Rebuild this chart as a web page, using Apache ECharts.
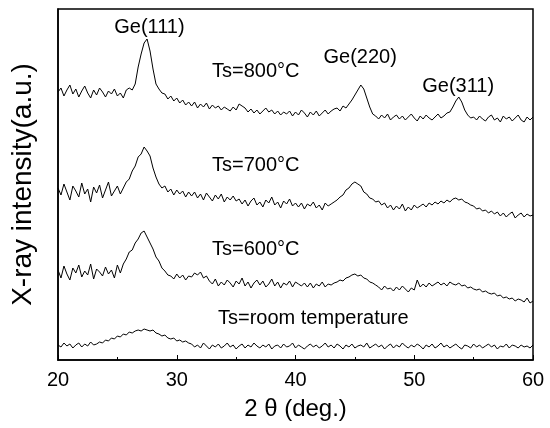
<!DOCTYPE html>
<html>
<head>
<meta charset="utf-8">
<script src="https://cdn.jsdelivr.net/npm/echarts@6/dist/echarts.min.js"></script>
<style>
html,body{margin:0;padding:0;background:#fff;}
#chart{width:550px;height:428px;}
</style>
</head>
<body>
<div id="chart"></div>
<script>
// 2θ sampling: 20.00 .. 60.00 deg, step 0.25 deg
const thetaStart = 20;
const thetaStep = 0.25;

// Intensities (a.u., curves stacked with offsets as in the figure)
const ts800 = [
268,272,264,270,275,266,271,263,269,274,267,262,270,265,272,268,263,269,266,271,264,267,262,270,272,
270,276,293,306,317,321,309,291,276,271,267,
266,261,264,259,262,257,260,255,258,
254,258,252,256,253,257,251,255,252,254,250,253,
251,249,253,250,256,254,252,248,251,247,250,246,249,252,248,250,246,249,245,248,
246,249,244,248,245,250,247,243,248,245,249,244,247,250,246,249,251,
252,249,254,252,256,260,265,270,275,271,262,253,246,
244,241,245,242,246,240,243,245,241,244,240,243,246,242,239,244,241,245,242,240,243,246,242,244,247,
248,253,259,263,258,250,245,242,
243,240,244,241,239,243,245,240,242,238,244,241,243,239,242,245,240,238,243,240,243
];
const ts700 = [
172,165,176,168,160,174,169,163,177,166,171,158,173,167,175,162,170,178,164,169,174,166,172,
178,181,189,194,203,206,213,209,204,192,183,176,172,
174,168,171,165,170,166,169,163,168,
164,168,162,166,160,167,163,159,165,161,166,158,163,160,164,159,
161,156,160,154,159,162,155,158,153,160,157,163,155,158,152,159,156,161,154,157,
153,157,151,156,154,158,152,155,150,157,154,156,
158,160,163,165,170,172,176,178,176,174,168,166,162,161,158,159,155,157,
152,155,150,154,151,156,149,153,150,155,152,154,
156,153,157,155,158,156,159,157,160,158,161,162,160,161,158,157,155,154,151,152,149,150,147,149,
146,148,144,147,143,146,148,142,145,147,143,146,144,145
];
const ts600 = [
90,82,94,86,80,92,87,95,83,89,85,96,81,91,88,84,93,86,90,82,95,87,
96,101,108,110,117,121,127,129,123,117,111,103,99,92,89,85,
84,81,86,82,85,80,84,83,87,85,88,82,84,
79,76,81,74,78,75,80,77,73,79,76,82,74,78,72,77,80,75,79,73,76,81,74,78,72,77,75,79,73,78,76,74,77,
73,77,72,76,74,78,73,76,75,77,
78,80,79,82,83,85,86,84,85,82,81,78,77,75,
73,70,74,71,72,69,73,70,74,71,68,72,70,
80,73,
76,73,77,74,76,78,75,77,74,78,76,75,77,74,
75,72,73,71,70,71,68,69,67,66,67,64,65,62,63,61,62,59,61,60,58,62,57,59
];
const tsRoom = [
15,13,17,14,16,12,15,17,13,16,14,18,15,
16,18,17,20,19,22,21,24,23,26,25,28,27,29,30,29,31,30,29,30,27,26,24,25,22,21,22,19,20,18,19,17,
16,13,15,12,17,14,11,15,13,16,12,14,17,13,15,11,14,16,12,15,
13,17,14,12,15,13,16,11,14,15,12,16,13,14,17,12,15,13,11,14,
16,13,15,12,14,17,13,15,12,16,14,11,15,13,16,12,14,15,13,17,
12,14,16,13,15,11,14,16,12,15,13,17,14,12,15,13,16,14,11,15,
13,16,12,14,17,13,15,12,14,16,13,11,15,14,12,16,13,15,12,14,
16,13,15,11,14,13,16,12,15,14,12,15,13,14,12,15
];

// Annotation texts and their positions in data units [2θ, intensity]
const annoText = ["Ge(111)", "Ts=800°C", "Ge(220)", "Ge(311)", "Ts=700°C", "Ts=600°C", "Ts=room temperature"];
const annoX = [27.7, 36.65, 45.45, 53.7, 36.65, 36.65, 41.5];
const annoY = [333, 289, 303, 274, 195, 111, 42];

const xTicks = [20, 30, 40, 50, 60];
const xName = "2 θ (deg.)";
const yName = "X-ray intensity(a.u.)";

function toPairs(arr) {
  return arr.map((v, i) => [thetaStart + i * thetaStep, v]);
}

const FONT = "'Liberation Sans', Arial, Helvetica, sans-serif";
const chart = echarts.init(document.getElementById('chart'), null, {renderer: 'canvas'});

const lineSeries = [ts800, ts700, ts600, tsRoom].map(arr => ({
  type: 'line',
  data: toPairs(arr),
  showSymbol: false,
  symbol: 'none',
  lineStyle: {color: '#000', width: 1},
  silent: true,
  animation: false
}));

const annoSeries = {
  type: 'scatter',
  symbolSize: 0,
  silent: true,
  animation: false,
  itemStyle: {opacity: 1, color: '#000'},
  data: annoText.map((t, i) => ({
    value: [annoX[i], annoY[i]],
    label: {
      show: true,
      formatter: t,
      position: 'inside',
      color: '#000',
      opacity: 1,
      fontSize: 20,
      fontFamily: FONT
    }
  }))
};

chart.setOption({
  animation: false,
  backgroundColor: '#fff',
  grid: {
    left: 58, right: 17, top: 9, bottom: 68,
    show: true, borderColor: '#000', borderWidth: 1.5, backgroundColor: 'transparent'
  },
  xAxis: {
    type: 'value',
    min: xTicks[0], max: xTicks[xTicks.length - 1], interval: 10,
    name: xName,
    nameLocation: 'middle',
    nameGap: 37,
    nameTextStyle: {color: '#000', fontSize: 24, fontFamily: FONT},
    axisLine: {show: true, lineStyle: {color: '#000', width: 1.5}},
    axisTick: {show: true, inside: true, length: 5, lineStyle: {color: '#000', width: 1}},
    minorTick: {show: true, splitNumber: 2, length: 3, lineStyle: {color: '#000', width: 1}},
    axisLabel: {color: '#000', fontSize: 20, fontFamily: FONT, margin: 10},
    splitLine: {show: false}
  },
  yAxis: {
    type: 'value',
    min: 0, max: 351,
    name: yName,
    nameLocation: 'middle',
    nameGap: 21,
    nameTextStyle: {color: '#000', fontSize: 28, fontFamily: FONT},
    axisLine: {show: true, lineStyle: {color: '#000', width: 1.5}},
    axisTick: {show: false},
    axisLabel: {show: false},
    splitLine: {show: false}
  },
  series: lineSeries.concat([annoSeries])
});
</script>
</body>
</html>
